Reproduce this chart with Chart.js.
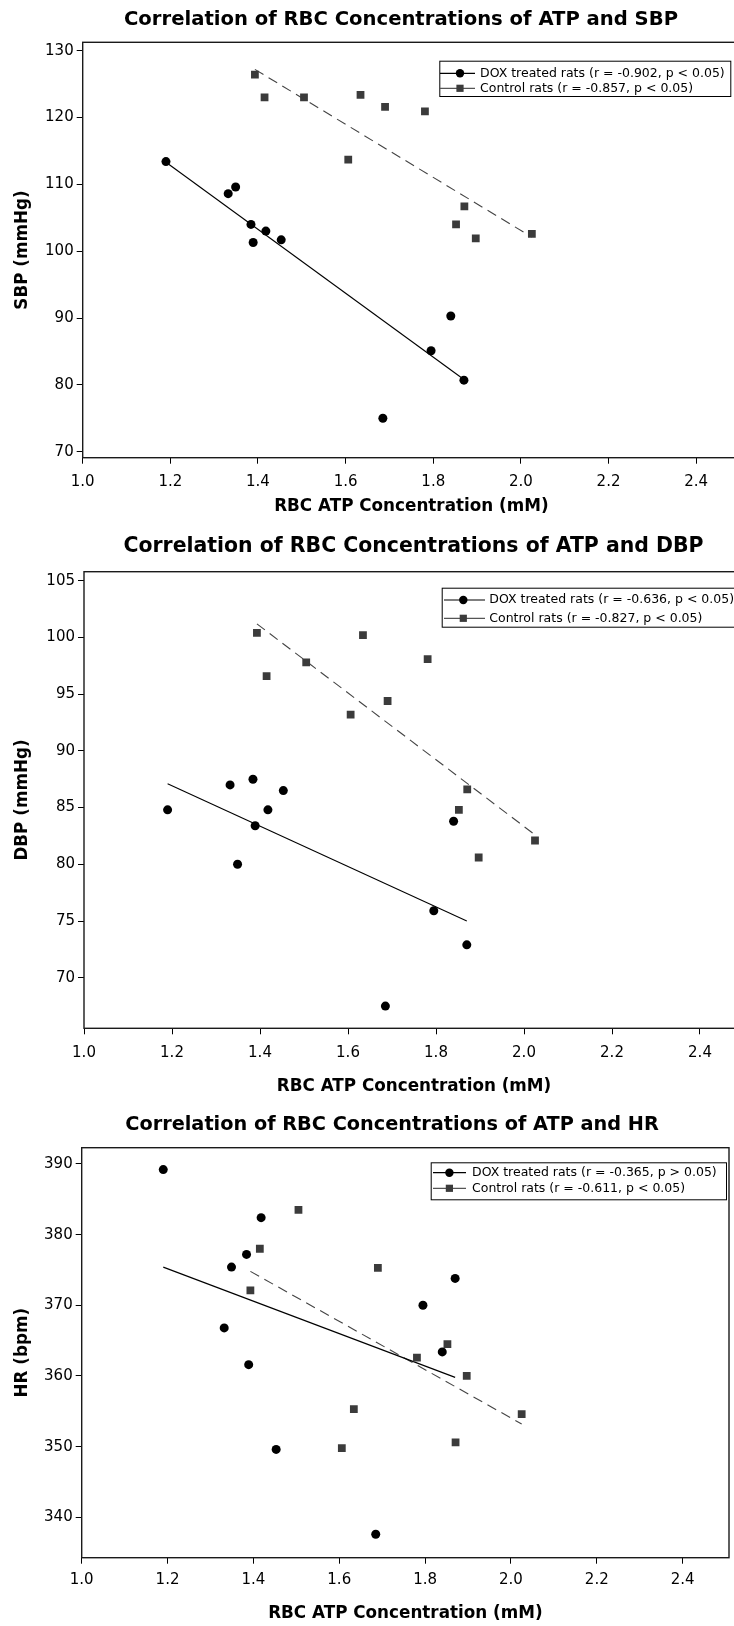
<!DOCTYPE html>
<html>
<head>
<meta charset="utf-8">
<title>RBC ATP correlations</title>
<script src="https://cdn.jsdelivr.net/npm/chart.js@4.4.1/dist/chart.umd.min.js"></script>
<style>
    html, body { margin: 0; padding: 0; background: #fff; overflow: hidden; }
    #page { position: relative; width: 734px; height: 1626px; overflow: hidden; }
    #page canvas { position: absolute; left: 0; }
</style>
</head>
<body>
<div id="page">
    <canvas id="chart-sbp"></canvas>
    <canvas id="chart-dbp"></canvas>
    <canvas id="chart-hr"></canvas>
</div>
<script>
// RBC ATP concentration (mM) of every rat, same rats in all three panels
var doxAtp  = [1.190, 1.332, 1.349, 1.384, 1.389, 1.418, 1.453, 1.685, 1.795, 1.840, 1.870];
var ctrlAtp = [1.393, 1.415, 1.505, 1.606, 1.634, 1.690, 1.781, 1.852, 1.871, 1.897, 2.025];

// SBP (mmHg)
var doxSbp  = [113.4, 108.6, 109.6, 104.0, 101.3, 103.0, 101.7, 75.0, 85.1, 90.3, 80.7];
var ctrlSbp = [126.4, 123.0, 123.0, 113.7, 123.4, 121.6, 120.9, 104.0, 106.7, 101.9, 102.6];
// DBP (mmHg)
var doxDbp  = [84.8, 87.0, 80.0, 87.5, 83.4, 84.8, 86.5, 67.5, 75.9, 83.8, 72.9];
var ctrlDbp = [100.4, 96.6, 97.8, 93.2, 100.2, 94.4, 98.1, 84.8, 86.6, 80.6, 82.1];
// HR (bpm)
var doxHr   = [389.2, 366.8, 375.4, 377.2, 361.6, 382.4, 349.6, 337.6, 370.0, 363.4, 373.8];
var ctrlHr  = [372.1, 378.0, 383.5, 349.8, 355.3, 375.3, 362.6, 364.5, 350.6, 360.0, 354.6];

// regression line ends [x0, y0, x1, y1] as drawn in the figure
var doxSbpFit  = [1.190, 113.3, 1.870, 80.8];
var ctrlSbpFit = [1.393, 127.2, 2.025, 102.1];
var doxDbpFit  = [1.190, 87.1, 1.870, 75.0];
var ctrlDbpFit = [1.393, 101.2, 2.025, 82.6];
var doxHrFit   = [1.190, 375.4, 1.870, 359.8];
var ctrlHrFit  = [1.393, 374.8, 2.025, 353.2];

// ticks
var xTicks   = [1.0, 1.2, 1.4, 1.6, 1.8, 2.0, 2.2, 2.4];
var sbpTicks = [70, 80, 90, 100, 110, 120, 130];
var dbpTicks = [70, 75, 80, 85, 90, 95, 100, 105];
var hrTicks  = [340, 350, 360, 370, 380, 390];

// text
var sbpTitle = "Correlation of RBC Concentrations of ATP and SBP";
var dbpTitle = "Correlation of RBC Concentrations of ATP and DBP";
var hrTitle  = "Correlation of RBC Concentrations of ATP and HR";
var xLabel   = "RBC ATP Concentration (mM)";
var sbpLabel = "SBP (mmHg)";
var dbpLabel = "DBP (mmHg)";
var hrLabel  = "HR (bpm)";
var sbpLegend = ["DOX treated rats (r = -0.902, p < 0.05)", "Control rats (r = -0.857, p < 0.05)"];
var dbpLegend = ["DOX treated rats (r = -0.636, p < 0.05)", "Control rats (r = -0.827, p < 0.05)"];
var hrLegend  = ["DOX treated rats (r = -0.365, p > 0.05)", "Control rats (r = -0.611, p < 0.05)"];

var FONT = "'DejaVu Sans', Verdana, sans-serif";
Chart.defaults.font.family = FONT;
Chart.defaults.color = "#000";

function pairs(xs, ys) {
    return xs.map(function (x, i) { return { x: x, y: ys[i] }; });
}
function fitLine(f) {
    return [{ x: f[0], y: f[1] }, { x: f[2], y: f[3] }];
}

/* plot frame + boxed legend (line sample, marker, text) */
var frameLegend = {
    id: "frameLegend",
    afterDraw: function (chart, args, o) {
        var ctx = chart.ctx, a = chart.chartArea, L = o.box;
        ctx.save();
        ctx.strokeStyle = "#1a1a1a";
        ctx.lineWidth = 1.4;
        ctx.strokeRect(a.left, a.top, a.right - a.left, a.bottom - a.top);

        ctx.fillStyle = "#fff";
        ctx.fillRect(L.x, L.y, L.w, L.h);
        ctx.lineWidth = 1;
        ctx.strokeStyle = "#000";
        ctx.strokeRect(L.x + 0.5, L.y + 0.5, L.w, L.h);

        ctx.font = "12.5px " + FONT;
        ctx.textBaseline = "middle";
        ctx.textAlign = "left";
        chart.data.datasets.forEach(function (ds) {
            if (ds.legendRow === undefined) return;
            var y = L.y + L.rows[ds.legendRow];
            ctx.strokeStyle = ds.legendLine;
            ctx.lineWidth = 1.2;
            ctx.beginPath();
            ctx.moveTo(L.x + L.line[0], y);
            ctx.lineTo(L.x + L.line[1], y);
            ctx.stroke();
            ctx.fillStyle = ds.backgroundColor;
            var mx = L.x + L.marker;
            if (ds.pointStyle === "circle") {
                ctx.beginPath();
                ctx.arc(mx, y, 4.2, 0, Math.PI * 2);
                ctx.fill();
            } else {
                ctx.fillRect(mx - 3.6, y - 3.6, 7.2, 7.2);
            }
            ctx.fillStyle = "#000";
            ctx.fillText(ds.label, L.x + L.text, y);
        });
        ctx.restore();
    }
};

function makePanel(id, p) {
    var cv = document.getElementById(id);
    cv.width = p.W;
    cv.height = p.H;
    cv.style.top = p.top + "px";
    cv.style.width = p.W + "px";
    cv.style.height = p.H + "px";

    return new Chart(cv, {
        type: "scatter",
        data: {
            datasets: [
                { label: p.legend[0], data: pairs(doxAtp, p.dox), pointStyle: "circle",
                  pointRadius: 4.5, backgroundColor: "#000", borderWidth: 0,
                  legendRow: 0, legendLine: "#000" },
                { label: p.legend[1], data: pairs(ctrlAtp, p.ctrl), pointStyle: "rect",
                  pointRadius: 5.5, backgroundColor: "#3b3b3b", borderWidth: 0,
                  legendRow: 1, legendLine: "#555" },
                { label: "dox fit", data: fitLine(p.doxFit), showLine: true, pointRadius: 0,
                  borderColor: "#000", borderWidth: 1.1 },
                { label: "control fit", data: fitLine(p.ctrlFit), showLine: true, pointRadius: 0,
                  borderColor: "#444", borderWidth: 1.1, borderDash: [10, 6] }
            ]
        },
        options: {
            responsive: false,
            animation: false,
            devicePixelRatio: 1,
            events: [],
            layout: { padding: 0 },
            plugins: {
                legend: { display: false },
                tooltip: { enabled: false },
                title: {
                    display: true, text: p.title, color: "#000",
                    font: { size: p.titleSize, weight: "bold", lineHeight: 1.2 },
                    padding: p.titlePad
                },
                frameLegend: { box: p.box }
            },
            scales: {
                x: {
                    type: "linear", min: 1.0, max: p.xMax,
                    afterBuildTicks: function (s) { s.ticks = xTicks.map(function (v) { return { value: v }; }); },
                    afterFit: function (s) { s.height = p.xH; },
                    ticks: { callback: function (v) { return v.toFixed(1); }, autoSkip: false, maxRotation: 0,
                             font: { size: 15 }, color: "#000", padding: p.xTickPad },
                    grid: { display: true, drawOnChartArea: false, drawTicks: true, tickLength: 6,
                            tickColor: "#000", tickWidth: 1 },
                    border: { display: false },
                    title: { display: true, text: xLabel, color: "#000",
                             font: { size: 16.8, weight: "bold" }, padding: { top: 0, bottom: p.xTitlePad } }
                },
                y: {
                    type: "linear", position: "left", min: p.yMin, max: p.yMax,
                    afterBuildTicks: function (s) { s.ticks = p.yTicks.map(function (v) { return { value: v }; }); },
                    afterFit: function (s) { s.width = p.yW; },
                    ticks: { autoSkip: false, font: { size: 15 }, color: "#000", padding: 3 },
                    grid: { display: true, drawOnChartArea: false, drawTicks: true, tickLength: 6,
                            tickColor: "#000", tickWidth: 1 },
                    border: { display: false },
                    title: { display: true, text: p.yLabel, color: "#000",
                             font: { size: 16.8, weight: "bold" }, padding: { top: 12.2, bottom: 0 } }
                },
                pad: {
                    type: "linear", position: "right", display: true,
                    afterFit: function (s) { s.width = p.rW; },
                    ticks: { display: false },
                    grid: { display: false },
                    border: { display: false }
                }
            }
        },
        plugins: [frameLegend]
    });
}

makePanel("chart-sbp", {
    top: 0, W: 802, H: 523, yW: 82.7, rW: 62, xH: 65.3,
    titleSize: 19.6, titlePad: { top: 8.24, bottom: 10.54 }, xTickPad: 9, xTitlePad: 6.2,
    xMax: 2.5, yMin: 69.1, yMax: 131.25, yTicks: sbpTicks,
    title: sbpTitle, yLabel: sbpLabel, legend: sbpLegend,
    dox: doxSbp, ctrl: ctrlSbp, doxFit: doxSbpFit, ctrlFit: ctrlSbpFit,
    box: { x: 439.3, y: 60.7, w: 291, h: 35.3, line: [0.7, 35.7], marker: 20.7, text: 40.7, rows: [12.6, 27.6] }
});

makePanel("chart-dbp", {
    top: 527, W: 827, H: 576, yW: 84, rW: 83, xH: 74.7,
    titleSize: 20.45, titlePad: { top: 7.43, bottom: 12.73 }, xTickPad: 10, xTitlePad: 6.2,
    xMax: 2.5, yMin: 65.54, yMax: 105.8, yTicks: dbpTicks,
    title: dbpTitle, yLabel: dbpLabel, legend: dbpLegend,
    dox: doxDbp, ctrl: ctrlDbp, doxFit: doxDbpFit, ctrlFit: ctrlDbpFit,
    box: { x: 441.7, y: 60.7, w: 300, h: 39, line: [2.3, 43.3], marker: 21.6, text: 47.6, rows: [12.3, 30.6] }
});

makePanel("chart-hr", {
    top: 1105, W: 784, H: 521, yW: 81.7, rW: 55, xH: 68.3,
    titleSize: 19.3, titlePad: { top: 8.42, bottom: 11.12 }, xTickPad: 7.3, xTitlePad: 2.6,
    xMax: 2.508, yMin: 334.28, yMax: 392.3, yTicks: hrTicks,
    title: hrTitle, yLabel: hrLabel, legend: hrLegend,
    dox: doxHr, ctrl: ctrlHr, doxFit: doxHrFit, ctrlFit: ctrlHrFit,
    box: { x: 430.7, y: 57.3, w: 295.3, h: 37, line: [2.3, 35.3], marker: 18.7, text: 41.3, rows: [10.4, 26] }
});
</script>
</body>
</html>
